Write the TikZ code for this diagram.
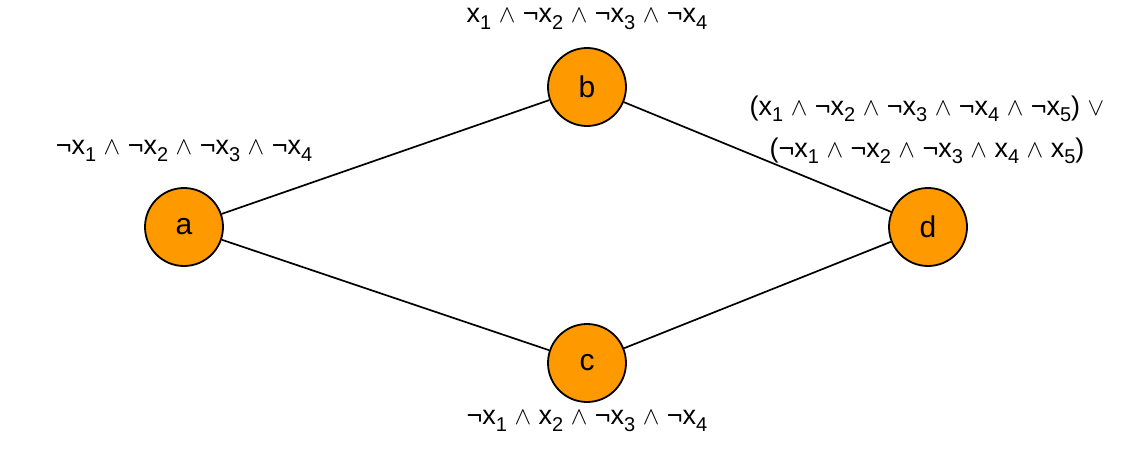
\documentclass[tikz,border=0pt]{standalone}
\usepackage{fontspec}
\setmainfont{Liberation Sans}
\newcommand{\wa}{ $\wedge$ }
\newcommand{\wo}{ $\vee$}
\newcommand{\xs}[1]{x\raisebox{-0.45ex}{\fontsize{20}{21}\selectfont #1}}
\begin{document}
\begin{tikzpicture}[x=1pt,y=-1pt,
  vert/.style={circle,draw=black,line width=1.8pt,fill={rgb,255:red,255;green,153;blue,0},minimum size=78pt,inner sep=0pt,font=\fontsize{30}{34}\selectfont},
  lbl/.style={font=\fontsize{27}{42}\selectfont,align=center,inner sep=0pt},
  edge/.style={line width=1.7pt}]
\useasboundingbox (0,0) rectangle (1139,452);
\node[vert] (a) at (184,227) {a};
\node[vert] (b) at (587,87) {b};
\node[vert] (c) at (587,363) {c};
\node[vert] (d) at (928,227) {d};
\draw[edge] (a) -- (b);
\draw[edge] (a) -- (c);
\draw[edge] (b) -- (d);
\draw[edge] (c) -- (d);
\node[lbl] (la) at (184,151) {¬\xs{1}\wa¬\xs{2}\wa¬\xs{3}\wa¬\xs{4}};
\node[lbl] (lb) at (587,19) {\xs{1}\wa¬\xs{2}\wa¬\xs{3}\wa¬\xs{4}};
\node[lbl] (lc) at (587,421) {¬\xs{1}\wa\xs{2}\wa¬\xs{3}\wa¬\xs{4}};
\node[lbl] (ld) at (927,130) {(\xs{1}\wa¬\xs{2}\wa¬\xs{3}\wa¬\xs{4}\wa¬\xs{5})\wo\\(¬\xs{1}\wa¬\xs{2}\wa¬\xs{3}\wa\xs{4}\wa\xs{5})};
\end{tikzpicture}
\end{document}
